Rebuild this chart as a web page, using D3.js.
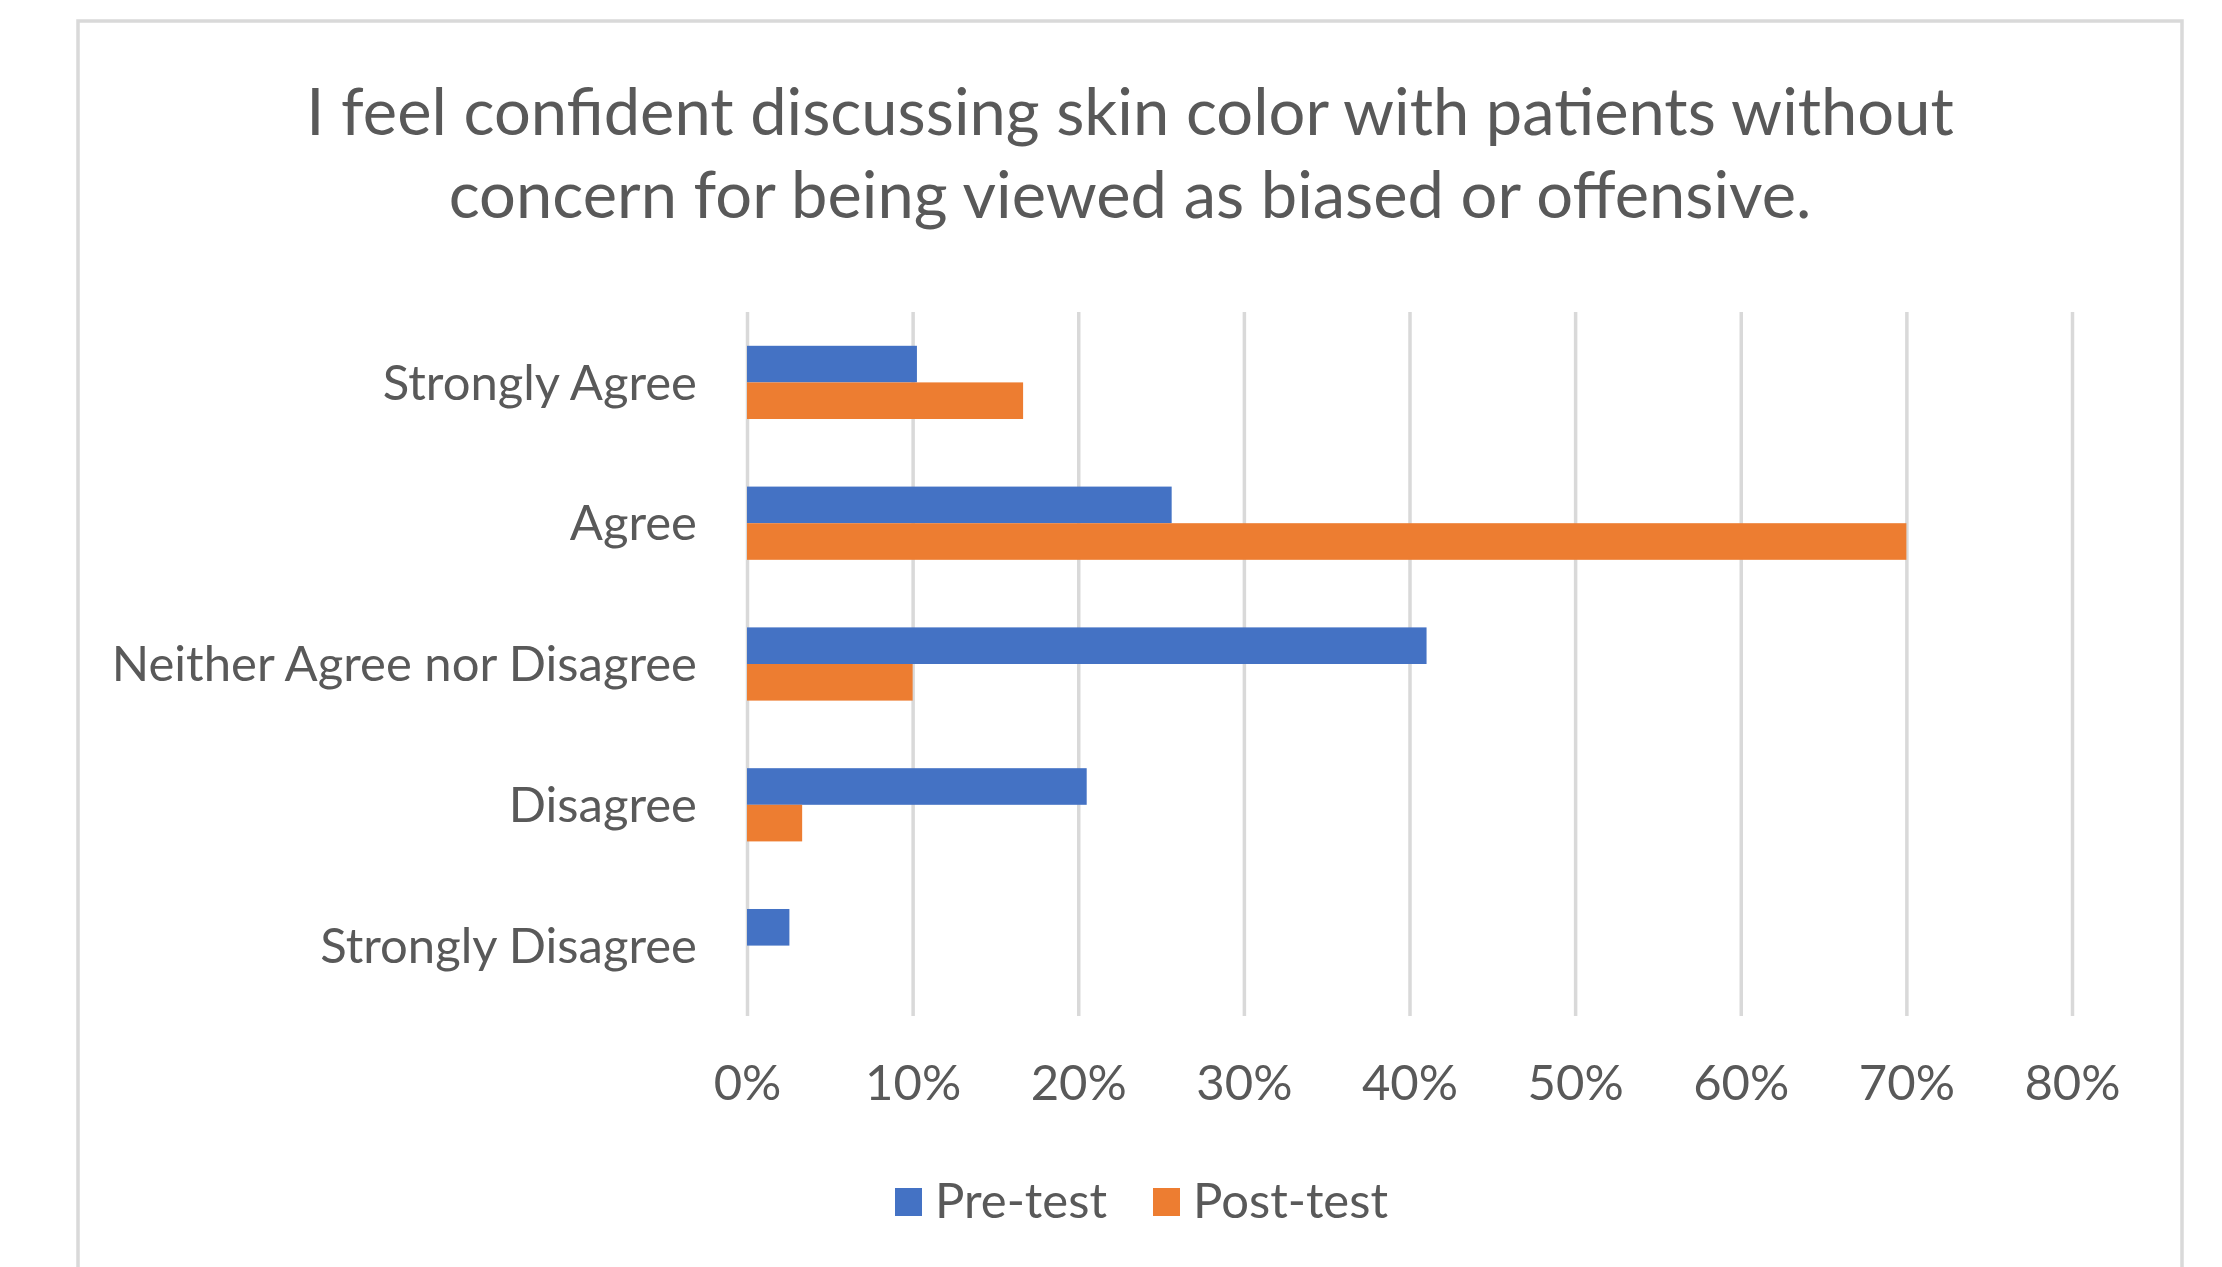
<!DOCTYPE html>
<html>
<head>
<meta charset="utf-8">
<script src="https://cdn.jsdelivr.net/npm/d3@7"></script>
<style>
  body { margin: 0; background: #ffffff; }
  svg { display: block; }
  text { font-family: Lato, "Open Sans", sans-serif; fill: #595959; }
</style>
</head>
<body>
<svg id="chart" width="2222" height="1267"></svg>
<script>
// Survey responses (% of respondents) before and after the session
const titleLines = [
  "I feel confident discussing skin color with patients without",
  "concern for being viewed as biased or offensive."
];
const categories = ["Strongly Agree", "Agree", "Neither Agree nor Disagree", "Disagree", "Strongly Disagree"];
const seriesNames = ["Pre-test", "Post-test"];
const preTest = [10.26, 25.64, 41.03, 20.51, 2.56];
const postTest = [16.67, 70.00, 10.00, 3.33, 0];
const tickValues = [0, 10, 20, 30, 40, 50, 60, 70, 80];
const seriesColors = ["#4472C4", "#ED7D31"];

const rows = categories.map((c, i) => ({ category: c, values: [preTest[i], postTest[i]] }));

const svg = d3.select("#chart");

// chart frame
svg.append("rect")
  .attr("x", 78).attr("y", 21)
  .attr("width", 2104).attr("height", 1300)
  .attr("fill", "#ffffff")
  .attr("stroke", "#d9d9d9").attr("stroke-width", 3.5);

// title
svg.append("text")
  .attr("x", 1130).attr("y", 135)
  .attr("text-anchor", "middle")
  .style("font-size", "65px")
  .selectAll("tspan").data(titleLines).join("tspan")
  .attr("x", 1130)
  .attr("dy", (d, i) => i === 0 ? 0 : 83)
  .text(d => d);

const plotTop = 312, plotBottom = 1016;
const x = d3.scaleLinear().domain([0, 80]).range([747, 2072]);
const y = d3.scaleBand().domain(categories).range([plotTop, plotBottom])
  .paddingInner(0.48).paddingOuter(0.24);
const ySub = d3.scaleBand().domain(seriesNames).range([0, y.bandwidth()]);

// gridlines + percentage labels
const xAxis = svg.append("g")
  .attr("transform", `translate(0,${plotBottom})`)
  .call(d3.axisBottom(x).tickValues(tickValues)
    .tickSizeInner(-(plotBottom - plotTop)).tickSizeOuter(0)
    .tickFormat(d => d + "%"));
xAxis.select(".domain").remove();
xAxis.selectAll(".tick line").attr("stroke", "#d9d9d9").attr("stroke-width", 3.5);
xAxis.selectAll(".tick text")
  .attr("y", 84).attr("dy", 0)
  .attr("fill", "#595959")
  .style("font-family", "Lato, 'Open Sans', sans-serif")
  .style("font-size", "49px");

// bars
const groups = svg.append("g").selectAll("g").data(rows).join("g")
  .attr("transform", d => `translate(0,${y(d.category)})`);
groups.selectAll("rect")
  .data(d => d.values.map((v, i) => ({ series: seriesNames[i], value: v, color: seriesColors[i] })))
  .join("rect")
  .attr("x", x(0))
  .attr("y", d => ySub(d.series))
  .attr("width", d => x(d.value) - x(0))
  .attr("height", ySub.bandwidth())
  .attr("fill", d => d.color);

// category labels
const yAxis = svg.append("g")
  .attr("transform", `translate(${x(0)},0)`)
  .call(d3.axisLeft(y).tickSize(0).tickPadding(50));
yAxis.select(".domain").remove();
yAxis.selectAll(".tick text")
  .attr("fill", "#595959")
  .attr("dy", "0.35em")
  .style("font-family", "Lato, 'Open Sans', sans-serif")
  .style("font-size", "49px");

// legend
const legend = svg.append("g").attr("transform", "translate(895,1188)");
const legendX = [0, 258];
const items = legend.selectAll("g").data(seriesNames).join("g")
  .attr("transform", (d, i) => `translate(${legendX[i]},0)`);
items.append("rect")
  .attr("width", 27).attr("height", 28)
  .attr("fill", (d, i) => seriesColors[i]);
items.append("text")
  .attr("x", 40).attr("y", 30)
  .style("font-size", "49px")
  .text(d => d);
</script>
</body>
</html>
